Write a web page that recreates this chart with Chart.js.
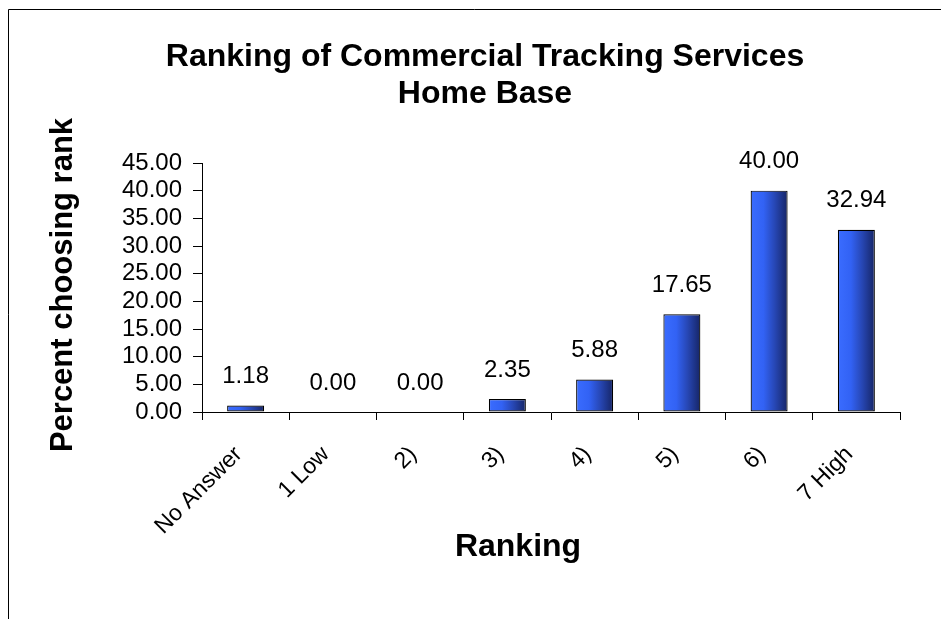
<!DOCTYPE html>
<html><head><meta charset="utf-8">
<script src="https://cdn.jsdelivr.net/npm/chart.js@4"></script>
<style>html,body{margin:0;padding:0;background:#fff;}#wrap{width:941px;height:619px;}</style>
</head><body><div id="wrap"><canvas id="c" width="941" height="619"></canvas></div>
<script>
const categories = ['No Answer', '1 Low', '2)', '3)', '4)', '5)', '6)', '7 High'];
const percentValues = [1.18, 0.00, 0.00, 2.35, 5.88, 17.65, 40.00, 32.94];
const yTicks = [0, 5, 10, 15, 20, 25, 30, 35, 40, 45];
const titleLines = ['Ranking of Commercial Tracking Services', 'Home Base'];
const xTitle = 'Ranking';
const yTitle = 'Percent choosing rank';

const FONT = "'Liberation Sans', Arial, sans-serif";
const BAR_PCT = 0.424;

const decorPlugin = {
  id: 'decor',
  beforeDraw(chart) {
    const c = chart.ctx;
    c.save();
    c.fillStyle = '#fff';
    c.fillRect(0, 0, chart.width, chart.height);
    c.strokeStyle = '#000';
    c.lineWidth = 1;
    c.beginPath();
    c.moveTo(8.5, chart.height);
    c.lineTo(8.5, 9.5);
    c.lineTo(chart.width, 9.5);
    c.stroke();
    c.restore();
  },
  afterDraw(chart) {
    const c = chart.ctx;
    c.save();
    c.fillStyle = '#000';
    c.textAlign = 'center';
    c.textBaseline = 'alphabetic';
    c.font = 'bold 32px ' + FONT;
    c.fillText(titleLines[0], 485, 66);
    c.fillText(titleLines[1], 485, 103);
    c.fillText(xTitle, 518, 556);
    c.font = 'bold 31px ' + FONT;
    c.translate(72, 285);
    c.rotate(-Math.PI / 2);
    c.fillText(yTitle, 0, 0);
    c.restore();
  },
  afterDatasetsDraw(chart) {
    const c = chart.ctx;
    const meta = chart.getDatasetMeta(0);
    c.save();
    c.fillStyle = '#000';
    c.textAlign = 'center';
    c.textBaseline = 'middle';
    c.font = '24px ' + FONT;
    meta.data.forEach((el, i) => {
      c.fillText(percentValues[i].toFixed(2), el.x, el.y - 29);
    });
    c.restore();
  }
};

function barGradient(ctx) {
  const chart = ctx.chart;
  const xs = chart.scales && chart.scales.x;
  if (!xs || ctx.dataIndex === undefined || !chart.chartArea) return '#2e57e6';
  const cx = xs.getPixelForValue(ctx.dataIndex);
  const w = xs.width / categories.length * BAR_PCT;
  const g = chart.ctx.createLinearGradient(cx - w / 2, 0, cx + w / 2, 0);
  g.addColorStop(0, '#3a6cff');
  g.addColorStop(0.35, '#3262f4');
  g.addColorStop(0.65, '#2747b5');
  g.addColorStop(1, '#162566');
  return g;
}

new Chart(document.getElementById('c'), {
  type: 'bar',
  data: {
    labels: categories,
    datasets: [{
      data: percentValues,
      backgroundColor: barGradient,
      borderColor: '#000',
      borderWidth: 1.2,
      borderSkipped: false,
      categoryPercentage: 1,
      barPercentage: BAR_PCT
    }]
  },
  plugins: [decorPlugin],
  options: {
    responsive: false,
    animation: false,
    devicePixelRatio: 1,
    layout: { padding: { top: 163, right: 41, bottom: 0, left: 0 } },
    plugins: { legend: { display: false }, title: { display: false }, tooltip: { enabled: false } },
    scales: {
      x: {
        offset: true,
        grid: { offset: true, drawOnChartArea: false, drawTicks: true, tickLength: 8, color: '#000', lineWidth: 1 },
        border: { display: true, color: '#000', width: 1 },
        ticks: { color: '#000', font: { family: FONT, size: 23 }, minRotation: 45, maxRotation: 45, padding: 21, labelOffset: -7, autoSkip: false },
        afterFit(s) { s.height = 207; }
      },
      y: {
        min: 0, max: 45,
        afterBuildTicks(s) { s.ticks = yTicks.map(v => ({ value: v })); },
        grid: { drawOnChartArea: false, drawTicks: true, tickLength: 9, color: '#000', lineWidth: 1 },
        border: { display: true, color: '#000', width: 1 },
        ticks: { color: '#000', font: { family: FONT, size: 24 }, padding: 11, autoSkip: false, callback: v => Number(v).toFixed(2) },
        afterFit(s) { s.width = 202; }
      }
    }
  }
});
</script></body></html>
